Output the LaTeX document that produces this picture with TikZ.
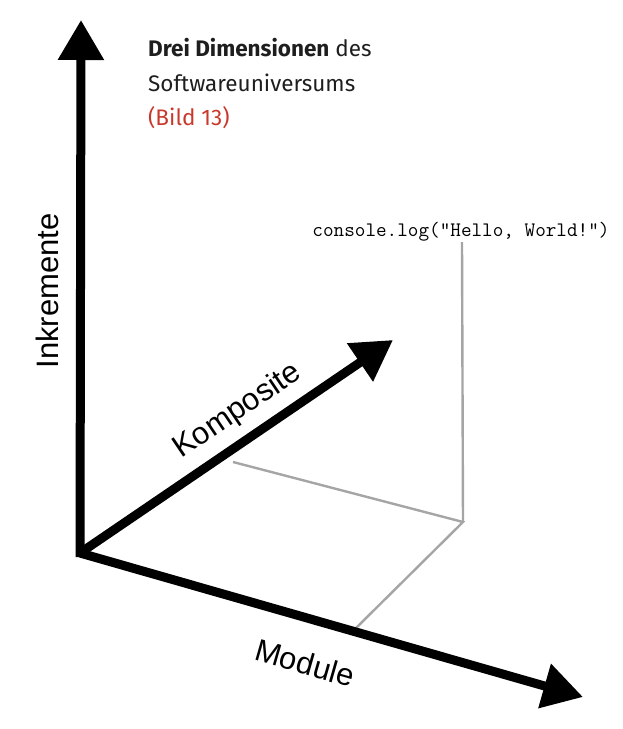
\documentclass[tikz,border=0pt]{standalone}
\usepackage{fontspec}
\setmainfont{Liberation Sans}
\newfontfamily\titlefont{Fira Sans}
\usetikzlibrary{arrows.meta}
\definecolor{titlered}{RGB}{200,57,43}
\definecolor{titleink}{RGB}{30,30,30}
\definecolor{guide}{RGB}{165,165,165}
\tikzset{
  axis/.style={line width=9pt, -{Triangle[length=40pt,width=44pt]}},
  guideline/.style={draw=guide, line width=2.4pt},
  axislabel/.style={font=\fontsize{31}{31}\selectfont, inner sep=0pt},
  titletext/.style={font=\titlefont\fontsize{22.5}{22.5}\selectfont, anchor=base west, inner sep=0pt, text=titleink},
}
\begin{document}
\begin{tikzpicture}[x=1pt,y=-1pt]
\useasboundingbox (0,0) rectangle (623,729);
\coordinate (O) at (80,553);
\coordinate (Ob) at (80,557);
\coordinate (Ytip) at (81,20);
\coordinate (Ztip) at (393,340);
\coordinate (Xtip) at (583,697);
\coordinate (Zp) at (233,462);
\coordinate (Xp) at (353,631);
\coordinate (P) at (463,522);
\node[font=\ttfamily\fontsize{20.6}{20.6}\selectfont, anchor=base, inner sep=0pt] (code) at (461,236) {console.log("Hello, World!")};
\coordinate (Ptop) at (462,242);
\draw[guideline] (Zp) -- (P) -- (Xp);
\draw[guideline] (P) -- (Ptop);
\draw[axis] (Ob) -- (Ytip);
\draw[axis] (O) -- (Ztip);
\draw[axis] (O) -- (Xtip);
\node[axislabel, rotate=90] (ylab) at (47,291) {Inkremente};
\node[axislabel, rotate=34] (zlab) at (238,411) {Komposite};
\node[axislabel, rotate=-16] (xlab) at (305,663) {Module};
\node[titletext] (t1) at (148,56) {\textbf{Drei Dimensionen} des};
\node[titletext] (t2) at (148,91) {Softwareuniversums};
\node[titletext, text=titlered] (t3) at (148,125) {(Bild 13)};
\end{tikzpicture}
\end{document}
